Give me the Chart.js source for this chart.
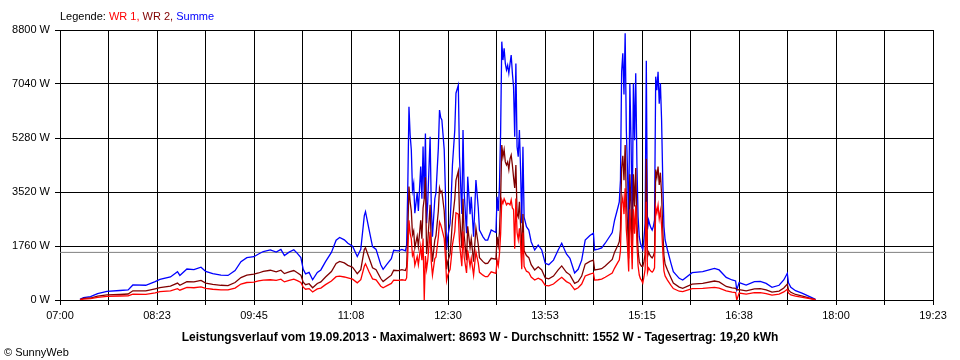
<!DOCTYPE html>
<html>
<head>
<meta charset="utf-8">
<script src="https://cdn.jsdelivr.net/npm/chart.js@4.4.0/dist/chart.umd.min.js"></script>
<style>
  html, body { margin:0; padding:0; background:#fff; }
  #wrap { position:relative; width:960px; height:360px; font-family:"Liberation Sans", Arial, sans-serif; font-size:11px; color:#000; }
  #perf { position:absolute; left:0; top:0; }
  .legend { position:absolute; left:60px; top:9px; line-height:14px; white-space:nowrap; }
  .title { position:absolute; left:0; top:330px; width:960px; text-align:center; font-weight:bold; font-size:12px; line-height:14px; white-space:nowrap; }
  .copy { position:absolute; left:4px; top:345px; line-height:14px; }
</style>
</head>
<body>
<div id="wrap">
  <canvas id="perf" width="960" height="360"></canvas>
  <div class="legend">Legende: <span style="color:#ff0000">WR 1,</span> <span style="color:#800000">WR 2,</span> <span style="color:#0000ff">Summe</span></div>
  <div class="title">Leistungsverlauf vom 19.09.2013 - Maximalwert: 8693 W - Durchschnitt: 1552 W - Tagesertrag: 19,20 kWh</div>
  <div class="copy">&copy; SunnyWeb</div>
</div>
<script>
// x axis labels (every second grid line)
const tickLabels = ['07:00','08:23','09:45','11:08','12:30','13:53','15:15','16:38','18:00','19:23'];
const yTicksW = [0, 1760, 3520, 5280, 7040, 8800];
const average = 1552;

const times = [
  '07:17','07:20','07:26','07:32','07:40','07:51','07:58','08:02','08:13','08:21',
  '08:25','08:34','08:40','08:42','08:48','08:54','09:00','09:04','09:10','09:17',
  '09:23','09:29','09:34','09:39','09:45','09:49','09:53','09:59','10:04','10:08',
  '10:11','10:15','10:19','10:22','10:25','10:27','10:29','10:32','10:35','10:39',
  '10:42','10:46','10:51','10:55','10:58','11:02','11:05','11:09','11:13','11:16',
  '11:19','11:20','11:23','11:26','11:29','11:33','11:35','11:38','11:42','11:44',
  '11:48','11:51','11:54',
  '11:55','11:56','11:57','11:58','11:59','12:00','12:01','12:02','12:04','12:05',
  '12:07','12:08','12:09','12:10','12:11','12:12','12:13','12:15','12:16','12:17',
  '12:19','12:20','12:22','12:23','12:24','12:25','12:27','12:28','12:29','12:30',
  '12:32','12:33','12:34','12:36','12:37','12:39','12:40','12:42','12:43','12:44',
  '12:46','12:47','12:49','12:50','12:52','12:53','12:54','12:56','12:57','13:00',
  '13:02',
  '13:04','13:07','13:11','13:12','13:13','13:14','13:15','13:16','13:17','13:18',
  '13:19','13:20','13:21','13:22','13:23','13:24','13:25','13:26','13:27','13:28',
  '13:29','13:30','13:31','13:32','13:33','13:34','13:35','13:37','13:39','13:41',
  '13:44','13:47','13:50','13:53','13:56','14:00','14:04','14:07','14:11','14:14',
  '14:18','14:21','14:24','14:27','14:31','14:34','14:35','14:38','14:41','14:44',
  '14:50','14:52',
  '14:55','14:56','14:57','14:58','14:59','15:00','15:01','15:02','15:03','15:04',
  '15:05','15:06','15:07','15:08','15:09','15:10','15:11','15:12','15:13','15:14',
  '15:15','15:16','15:17','15:18','15:19','15:20','15:21','15:22','15:23','15:24',
  '15:25','15:26','15:27','15:28','15:29','15:30','15:31','15:32','15:33','15:34',
  '15:35','15:37','15:40','15:42','15:47','15:50','15:58','16:07','16:17','16:21',
  '16:27','16:32','16:35','16:36','16:38','16:44','16:51','16:56','17:01','17:06',
  '17:12','17:16','17:19','17:20','17:22','17:26','17:32','17:38','17:43'
];

const summe = [
  20,80,110,210,280,310,330,490,480,600,
  670,750,920,800,1010,990,1070,930,860,810,
  800,960,1250,1380,1410,1500,1580,1630,1560,1650,
  1450,1560,1640,1520,1380,1000,850,900,660,900,
  980,1250,1550,1950,2040,1960,1850,1750,1420,1650,
  2750,2880,2300,1740,1650,1150,1000,1150,1350,1620,
  1600,1650,1600,
  1790,3690,6300,5380,4890,3580,3800,2830,3500,2900,
  4350,3300,5000,3300,5430,2500,3200,5320,3040,2060,
  3300,3500,4950,6190,5950,5870,4900,3580,1630,2060,
  2500,3360,4400,5540,6740,7000,4670,2800,5540,3500,
  2180,4020,2800,3360,2060,3000,3910,3000,2280,2060,
  1950,
  1955,2280,2200,3365,2900,3690,5440,8420,7820,8200,
  7710,7500,7650,7390,7700,7985,7400,6950,5320,7710,
  5000,4670,5540,4240,2500,4995,2700,2390,2280,1900,
  1630,1790,1630,1195,1150,1300,1630,1850,1500,1360,
  880,1000,1300,1955,2100,2180,1630,1660,1700,1850,
  2200,2600,
  3040,3200,3900,7440,8040,6700,8693,5540,4240,2280,
  7060,5210,2500,7060,5210,7390,4450,2715,2063,1847,
  1738,1650,2000,2500,7800,2300,2607,2450,2350,2280,
  2400,2607,7280,6840,7440,6400,7060,5870,3910,2400,
  1955,1630,1195,924,706,652,890,924,1032,980,
  738,652,620,330,565,489,597,610,540,413,
  480,652,870,560,413,304,217,108,20
];

const wr2 = [
  12,50,65,125,165,180,195,300,295,365,
  400,450,550,480,600,590,640,550,510,480,
  470,570,730,810,840,880,930,970,920,970,
  860,920,960,890,810,580,500,530,400,540,
  590,750,930,1190,1260,1210,1130,1070,860,990,
  1650,1700,1380,1050,990,700,600,690,810,970,
  960,990,960,
  1070,2200,3700,3200,2900,2130,2250,1700,2080,1750,
  2600,2000,3000,3300,4000,1500,1900,3100,1800,1250,
  1950,2100,2900,3650,3500,3550,2900,2150,1000,1250,
  1500,2000,2600,3300,3900,4200,2800,1700,3300,2100,
  1300,2400,1700,2000,1250,1800,2350,1800,1380,1250,
  1190,
  1195,1360,1330,2060,1780,2200,3300,5050,4670,4900,
  4500,4400,4500,4250,4600,4725,4400,4000,3650,4400,
  2800,2700,3200,2450,1500,2800,1600,1450,1380,1150,
  980,1080,980,720,690,780,980,1110,900,820,
  540,600,780,1170,1260,1300,980,1000,1020,1110,
  1320,1560,
  1800,1900,2300,4300,4700,3900,5050,3250,2500,1350,
  4100,3050,1500,4100,3050,4300,2600,1600,1250,1150,
  1100,1100,1250,1500,4600,1400,1560,1470,1410,1370,
  1440,1560,4250,4000,4350,3750,4150,3450,2300,1450,
  1170,980,720,550,420,380,520,544,619,590,
  440,395,380,330,340,300,360,370,330,255,
  290,390,520,330,250,180,130,65,12
];

const wr1 = [
  8,30,45,85,115,130,135,190,185,235,
  270,300,370,320,410,400,430,380,350,330,
  330,390,520,570,580,620,650,660,640,680,
  590,640,680,630,570,420,350,370,260,360,
  390,500,620,760,780,750,720,680,560,660,
  1100,1180,920,690,660,450,400,460,540,650,
  640,660,640,
  720,1490,2600,2180,1990,1450,1550,1130,1420,1150,
  1750,1300,2000,0,1430,1000,1300,2220,1240,810,
  1350,1400,2050,2540,2450,2320,2000,1430,630,810,
  1000,1360,1800,2240,2840,2800,1870,1100,2240,1400,
  880,1620,1100,1360,810,1200,1560,1200,900,810,
  760,
  760,920,870,1300,1120,1490,2140,3260,3150,3300,
  3210,3100,3150,3140,3100,3260,3000,2950,1670,3310,
  2200,1970,2340,1790,1000,2200,1100,940,900,750,
  650,710,650,475,460,520,650,740,600,540,
  340,400,520,785,840,880,650,660,680,740,
  880,1040,
  1240,1300,1600,3140,3340,2800,3643,2290,1740,930,
  2960,2160,1000,2960,2160,3090,1850,1115,813,697,
  638,550,750,1000,3200,900,1047,980,940,910,
  960,1047,3030,2840,3090,2650,2910,2420,1610,950,
  785,650,475,374,286,272,370,380,413,390,
  298,257,240,0,225,189,237,240,210,158,
  190,262,350,230,163,124,87,43,8
];

(function(){
  const cvs = document.getElementById('perf');
  const FONT = '"Liberation Sans", Arial, sans-serif';

  // minutes after 07:00
  const toMin = s => { const p = s.split(':').map(Number); return p[0]*60 + p[1] - 420; };
  const span = toMin(tickLabels[tickLabels.length-1]);
  const pts = arr => times.map((t,i) => ({ x: toMin(t), y: arr[i] }));
  const line = (label, data, color, order, w) => ({
    label, data, borderColor: color, borderWidth: w,
    pointRadius: 0, tension: 0, fill: false, order
  });

  new Chart(cvs, {
    type: 'line',
    data: {
      datasets: [
        line('WR 1', pts(wr1), '#ff0000', 1, 1.3),
        line('WR 2', pts(wr2), '#800000', 2, 1.3),
        line('Summe', pts(summe), '#0000ff', 3, 1.3),
        line('Durchschnitt', [{x:0, y:average}, {x:span, y:average}], '#808080', 4, 1)
      ]
    },
    options: {
      responsive: false,
      animation: false,
      devicePixelRatio: 1,
      events: [],
      layout: { padding: { left:0, top:30, right:27, bottom:0 } },
      plugins: { legend: { display:false }, tooltip: { enabled:false } },
      scales: {
        x: {
          type: 'linear', min: 0, max: span,
          afterBuildTicks: s => { s.ticks = Array.from({length:19}, (_, i) => ({ value: i*span/18 })); },
          afterFit: s => { s.height = 60; },
          grid: { color:'#000', lineWidth:1, tickLength:5 },
          border: { color:'#000' },
          ticks: {
            autoSkip:false, maxRotation:0, color:'#000', padding:4,
            font: { family:FONT, size:11 },
            callback: (v, i) => i % 2 === 0 ? tickLabels[i/2] : ''
          }
        },
        y: {
          min: 0, max: 8800,
          afterBuildTicks: s => { s.ticks = yTicksW.map(v => ({ value:v })); },
          afterFit: s => { s.width = 60; },
          grid: { color:'#000', lineWidth:1, tickLength:5 },
          border: { color:'#000' },
          ticks: {
            color:'#000', padding:5,
            font: { family:FONT, size:11 },
            callback: v => v + ' W'
          }
        }
      }
    }
  });
})();
</script>
</body>
</html>
